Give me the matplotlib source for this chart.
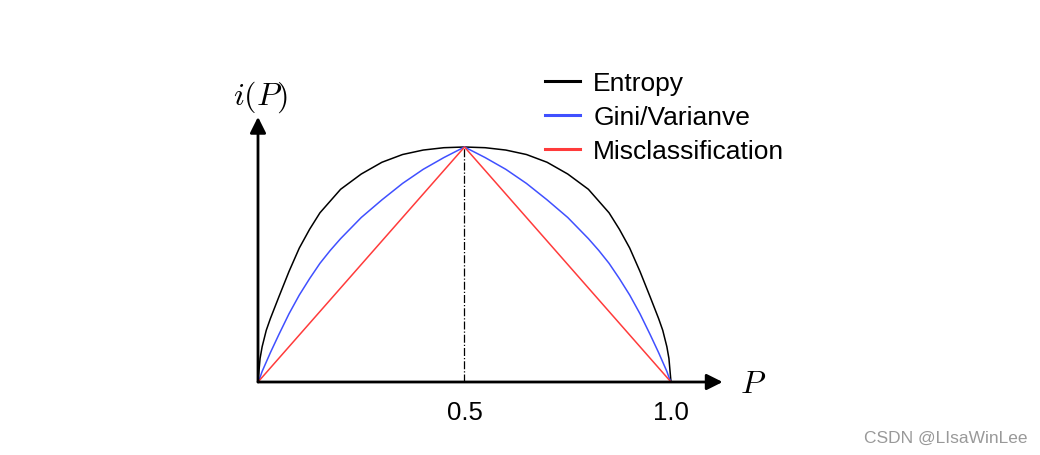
import numpy as np
import matplotlib
matplotlib.use('Agg')
import matplotlib.pyplot as plt

# values (impurity scaled so the peak is 1)
p_vals = [0, 0.005, 0.01, 0.02, 0.03, 0.05, 0.075, 0.1, 0.125, 0.15, 0.175, 0.2,
          0.25, 0.3, 0.35, 0.4, 0.45, 0.5,
          0.55, 0.6, 0.65, 0.7, 0.75, 0.8, 0.825, 0.85, 0.875, 0.9, 0.925, 0.95,
          0.97, 0.98, 0.99, 0.995, 1.0]
entropy = [0, 0.10, 0.15, 0.22, 0.27, 0.36, 0.47, 0.57, 0.65, 0.72, 0.77, 0.82,
           0.885, 0.935, 0.968, 0.987, 0.997, 1.0,
           0.997, 0.987, 0.968, 0.935, 0.885, 0.82, 0.77, 0.72, 0.65, 0.57, 0.47, 0.36,
           0.27, 0.22, 0.15, 0.10, 0]
gini = [0, 0.02, 0.045, 0.085, 0.125, 0.20, 0.29, 0.37, 0.44, 0.505, 0.56, 0.61,
        0.70, 0.775, 0.845, 0.905, 0.955, 1.0,
        0.955, 0.905, 0.845, 0.775, 0.70, 0.61, 0.56, 0.505, 0.44, 0.37, 0.29, 0.20,
        0.125, 0.085, 0.045, 0.02, 0]
p_mis = [0, 0.5, 1.0]
misclass = [0, 1.0, 0]

tick_vals = [0.5, 1.0]
tick_labels = ['0.5', '1.0']

plt.rcParams['font.family'] = ['Liberation Sans', 'DejaVu Sans']
plt.rcParams['mathtext.fontset'] = 'cm'

fig = plt.figure(figsize=(10.4, 4.56), dpi=100)
ax = fig.add_axes([258 / 1040, 73 / 456, 413 / 1040, 235 / 456])
ax.set_xlim(0, 1)
ax.set_ylim(0, 1)
ax.axis('off')

ax.plot(p_vals, entropy, color='black', lw=1.1, label='Entropy', clip_on=False)
ax.plot(p_vals, gini, color='#4050ff', lw=1.1, label='Gini/Varianve', clip_on=False)
ax.plot(p_mis, misclass, color='#ff3b3b', lw=1.1, label='Misclassification', clip_on=False)

# dash-dot line at p = 0.5
ax.plot([0.5, 0.5], [0, 1.0], color='black', lw=0.9, ls='-.')

# axes with arrow heads
arrow = dict(arrowstyle='-|>', mutation_scale=24, lw=2.0, color='black',
             shrinkA=0, shrinkB=0)
ax.annotate('', xy=(1.125, 0), xytext=(0, 0), arrowprops=arrow, annotation_clip=False)
ax.annotate('', xy=(0, 1.128), xytext=(0, 0), arrowprops=arrow, annotation_clip=False)

for t, lbl in zip(tick_vals, tick_labels):
    ax.annotate(lbl, xy=(t, 0), xytext=(0, -30), textcoords='offset pixels',
                ha='center', va='center', fontsize=18.5, annotation_clip=False)

fig.text(261 / 1040, 1 - 97 / 456, r'$i(P)$', fontsize=23, ha='center', va='center')
fig.text(753 / 1040, 1 - 385 / 456, r'$P$', fontsize=23, ha='center', va='center')

leg = fig.legend(loc='upper left', bbox_to_anchor=(545 / 1040, 1 - 72 / 456),
                 frameon=False, fontsize=19, handlelength=1.33, handletextpad=0.5,
                 labelspacing=0.38, borderpad=0, borderaxespad=0)
for line in leg.get_lines():
    line.set_linewidth(2.2)

fig.text(1028 / 1040, 1 - 438 / 456, 'CSDN @LIsaWinLee', fontsize=12.5, color='#999999',
         ha='right', va='center')

fig.savefig('out.png', dpi=100)
